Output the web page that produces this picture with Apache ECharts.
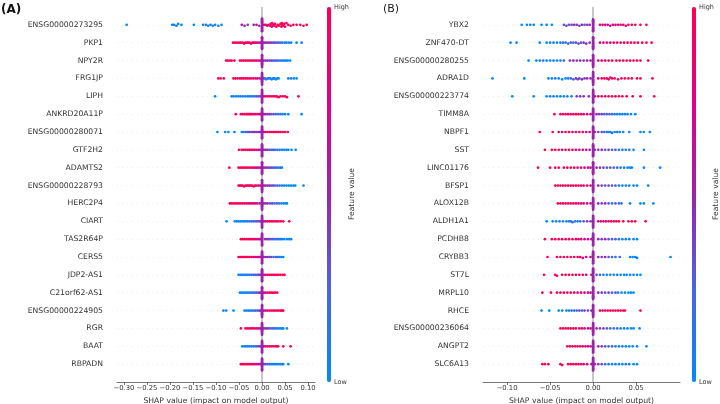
<!DOCTYPE html>
<html>
<head>
<meta charset="UTF-8">
<title>SHAP summary</title>
<script src="https://cdn.jsdelivr.net/npm/echarts@6.0.0/dist/echarts.min.js"></script>
<style>
  html, body { margin: 0; padding: 0; background: #fff; }
  #chart { width: 720px; height: 404px; }
</style>
</head>
<body>
<div id="chart"></div>
<script>
// features, top to bottom
var featuresA = ['ENSG00000273295', 'PKP1', 'NPY2R', 'FRG1JP', 'LIPH', 'ANKRD20A11P', 'ENSG00000280071',
    'GTF2H2', 'ADAMTS2', 'ENSG00000228793', 'HERC2P4', 'CIART', 'TAS2R64P', 'CERS5', 'JDP2-AS1',
    'C21orf62-AS1', 'ENSG00000224905', 'RGR', 'BAAT', 'RBPADN'];
var featuresB = ['YBX2', 'ZNF470-DT', 'ENSG00000280255', 'ADRA1D', 'ENSG00000223774', 'TIMM8A', 'NBPF1',
    'SST', 'LINC01176', 'BFSP1', 'ALOX12B', 'ALDH1A1', 'PCDHB8', 'CRYBB3', 'ST7L', 'MRPL10', 'RHCE',
    'ENSG00000236064', 'ANGPT2', 'SLC6A13'];

var ticksA = [-0.30, -0.25, -0.20, -0.15, -0.10, -0.05, 0.00, 0.05, 0.10];
var ticksB = [-0.10, -0.05, 0.00, 0.05];

// samples sitting on zero (the purple spike), per row
var zeroA = [14, 14, 14, 14, 14, 14, 14, 14, 14, 14, 14, 14, 14, 14, 14, 14, 14, 14, 14, 14];
var zeroB = [14, 14, 14, 14, 14, 14, 14, 14, 14, 14, 14, 14, 14, 14, 14, 14, 14, 14, 14, 14];

// [shap value, feature value 0..1]
var shapA = [
  [[-0.294,0],[-0.195,0],[-0.191,0],[-0.186,0.1],[-0.182,0],[-0.175,0],[-0.148,0],[-0.128,0],[-0.122,0.1],[-0.117,0],[-0.112,0.1],[-0.107,0],[-0.102,0],[-0.095,0.1],[-0.088,0],
   [-0.044,0.5],[-0.038,0.6],[-0.031,0.4],[-0.018,0.5],[-0.012,0.6],[-0.006,0.5],
   [0.004,0.8],[0.008,0.9],[0.011,1],[0.014,0.9],[0.017,1],[0.019,0.9],[0.021,1],[0.022,1],[0.024,0.9],[0.026,1],[0.028,0.9],[0.031,1],[0.034,0.9],[0.037,1],[0.040,1],[0.042,0.9],[0.043,1],[0.044,1],[0.046,0.9],[0.048,1],[0.050,1],[0.053,0.9],[0.057,1],
   [0.062,1],[0.068,1],[0.075,1],[0.083,0.9],[0.090,1],[0.097,1]],
  [[-0.063,1],[-0.059,1],[-0.055,0.9],[-0.050,1],[-0.046,1],[-0.042,0.9],[-0.039,1],[-0.036,1],[-0.033,0.9],[-0.030,1],[-0.027,0.9],[-0.024,1],[-0.021,0.9],[-0.018,0.8],[-0.015,0.9],[-0.011,0.8],[-0.007,0.7],[-0.003,0.7],
   [0.004,0.5],[0.008,0.5],[0.012,0.4],[0.016,0.5],[0.020,0.4],[0.024,0.3],[0.028,0.4],[0.032,0.2],[0.036,0.3],[0.040,0.2],[0.044,0.1],[0.049,0.1],[0.053,0],[0.058,0.1],[0.063,0],[0.075,0],[0.086,0]],
  [[-0.078,1],[-0.074,1],[-0.070,0.9],[-0.066,1],[-0.060,1],[-0.048,1],[-0.044,0.9],[-0.040,1],[-0.036,1],[-0.032,0.9],[-0.028,1],[-0.024,0.9],[-0.020,1],[-0.016,0.8],[-0.012,0.9],[-0.008,0.7],[-0.004,0.8],
   [0.004,0.5],[0.008,0.4],[0.012,0.5],[0.016,0.3],[0.020,0.4],[0.024,0.3],[0.028,0.2],[0.032,0.3],[0.036,0.1],[0.040,0.2],[0.044,0.1],[0.048,0],[0.052,0.1],[0.056,0],[0.061,0]],
  [[-0.095,1],[-0.090,1],[-0.083,0.9],[-0.062,1],[-0.058,1],[-0.053,0.9],[-0.048,1],[-0.044,1],[-0.040,0.9],[-0.036,1],[-0.032,0.8],[-0.028,1],[-0.024,0.9],[-0.019,0.8],[-0.014,0.9],[-0.010,0.7],[-0.005,0.6],
   [0.003,0.3],[0.006,0.2],[0.009,0.1],[0.012,0.2],[0.015,0],[0.018,0.1],[0.021,0],[0.024,0.1],[0.027,0],[0.030,0.1],[0.033,0],[0.036,0],[0.057,0],[0.063,0.1],[0.069,0],[0.075,0]],
  [[-0.102,0],[-0.066,0],[-0.062,0.1],[-0.057,0],[-0.052,0],[-0.047,0.1],[-0.042,0],[-0.037,0.1],[-0.032,0],[-0.028,0.1],[-0.024,0],[-0.020,0.2],[-0.016,0.1],[-0.012,0.3],[-0.008,0.4],[-0.004,0.3],
   [0.004,0.8],[0.008,0.9],[0.012,1],[0.016,0.9],[0.020,1],[0.024,1],[0.028,0.9],[0.032,1],[0.036,1],[0.040,0.9],[0.045,1],[0.050,1],[0.054,1],[0.079,1]],
  [[-0.057,1],[-0.046,1],[-0.042,0.9],[-0.038,1],[-0.034,1],[-0.031,0.9],[-0.028,1],[-0.025,1],[-0.022,0.9],[-0.018,1],[-0.014,0.8],[-0.010,0.9],[-0.006,0.7],[-0.003,0.8],
   [0.004,0.5],[0.008,0.6],[0.012,0.4],[0.016,0.5],[0.020,0.3],[0.025,0.4],[0.030,0.2],[0.035,0.1],[0.040,0.2],[0.045,0],[0.050,0.1],[0.057,0],[0.086,0]],
  [[-0.097,0],[-0.080,0],[-0.073,0],[-0.060,0],[-0.044,0],[-0.040,0.1],[-0.036,0.2],[-0.032,0.3],[-0.028,0.4],[-0.024,0.3],[-0.020,0.4],[-0.016,0.5],[-0.012,0.4],[-0.008,0.5],[-0.004,0.5],
   [0.004,0.8],[0.008,0.9],[0.012,1],[0.016,0.9],[0.020,1],[0.024,1],[0.028,0.9],[0.032,1],[0.036,1],[0.040,0.9],[0.045,1],[0.050,1],[0.056,1]],
  [[-0.050,1],[-0.044,1],[-0.040,0.9],[-0.036,1],[-0.032,1],[-0.028,0.9],[-0.024,1],[-0.020,0.8],[-0.016,0.9],[-0.012,0.8],[-0.008,0.7],[-0.004,0.6],
   [0.004,0.5],[0.008,0.4],[0.012,0.5],[0.016,0.3],[0.020,0.2],[0.024,0.3],[0.028,0.1],[0.033,0.2],[0.038,0],[0.043,0.1],[0.048,0],[0.053,0],[0.057,0],[0.064,0],[0.073,0]],
  [[-0.071,1],[-0.051,1],[-0.047,1],[-0.043,0.9],[-0.039,1],[-0.035,1],[-0.031,0.9],[-0.027,1],[-0.023,0.8],[-0.019,0.9],[-0.015,0.8],[-0.011,0.7],[-0.007,0.7],[-0.003,0.6],
   [0.004,0.5],[0.008,0.4],[0.012,0.5],[0.016,0.3],[0.020,0.4],[0.024,0.2],[0.028,0.3],[0.032,0.1],[0.036,0.2],[0.040,0],[0.043,0.1]],
  [[-0.051,1],[-0.048,1],[-0.045,0.9],[-0.042,1],[-0.039,1],[-0.036,1],[-0.033,0.9],[-0.030,1],[-0.027,1],[-0.024,0.9],[-0.021,1],[-0.018,0.9],[-0.015,1],[-0.012,0.8],[-0.008,0.9],[-0.004,0.7],
   [0.004,0.5],[0.008,0.6],[0.012,0.4],[0.016,0.5],[0.020,0.3],[0.024,0.4],[0.028,0.2],[0.033,0.3],[0.038,0.1],[0.043,0],[0.048,0.1],[0.053,0],[0.058,0],[0.063,0],[0.068,0],[0.072,0],[0.090,0]],
  [[-0.070,1],[-0.066,1],[-0.062,0.9],[-0.058,1],[-0.054,1],[-0.050,0.9],[-0.046,1],[-0.042,0.9],[-0.038,1],[-0.034,0.8],[-0.030,0.9],[-0.026,0.8],[-0.022,0.9],[-0.018,0.7],[-0.014,0.8],[-0.010,0.6],[-0.005,0.6],
   [0.004,0.5],[0.008,0.4],[0.012,0.5],[0.017,0.3],[0.022,0.4],[0.027,0.2],[0.032,0.3],[0.037,0.1],[0.042,0],[0.047,0.1],[0.051,0],[0.054,0]],
  [[-0.077,0],[-0.059,0],[-0.055,0],[-0.051,0.1],[-0.047,0],[-0.043,0],[-0.039,0.1],[-0.035,0],[-0.031,0.2],[-0.027,0.1],[-0.023,0.2],[-0.019,0.3],[-0.015,0.2],[-0.011,0.4],[-0.007,0.3],[-0.003,0.5],
   [0.004,0.7],[0.008,0.8],[0.012,0.9],[0.016,1],[0.020,0.9],[0.024,1],[0.028,1],[0.032,0.9],[0.036,1],[0.041,1],[0.046,1],[0.059,1]],
  [[-0.046,1],[-0.042,1],[-0.038,0.9],[-0.034,1],[-0.030,1],[-0.026,0.9],[-0.022,1],[-0.018,0.8],[-0.014,0.9],[-0.010,0.7],[-0.006,0.8],[-0.003,0.6],
   [0.007,0.5],[0.011,0.4],[0.015,0.4],[0.019,0.3],[0.023,0.3],[0.027,0.2],[0.031,0.1],[0.035,0.2],[0.039,0],[0.043,0.1],[0.048,0],[0.054,0],[0.059,0],[0.063,0]],
  [[-0.051,1],[-0.047,1],[-0.043,0.9],[-0.039,1],[-0.035,1],[-0.031,0.9],[-0.027,1],[-0.023,0.8],[-0.019,0.9],[-0.015,0.8],[-0.011,0.7],[-0.007,0.8],[-0.003,0.6],
   [0.004,0.5],[0.008,0.4],[0.012,0.5],[0.016,0.3],[0.020,0.4],[0.025,0.2],[0.030,0.3],[0.034,0.1],[0.038,0.2],[0.042,0],[0.046,0]],
  [[-0.051,0],[-0.047,0],[-0.043,0.1],[-0.039,0],[-0.035,0.1],[-0.031,0],[-0.027,0.2],[-0.023,0.1],[-0.019,0.2],[-0.015,0.3],[-0.011,0.2],[-0.007,0.4],[-0.003,0.5],
   [0.004,0.7],[0.008,0.8],[0.012,0.9],[0.016,1],[0.020,0.9],[0.024,1],[0.028,1],[0.032,0.9],[0.036,1],[0.040,1],[0.045,1],[0.049,1]],
  [[-0.048,0],[-0.044,0],[-0.040,0.1],[-0.036,0],[-0.032,0.1],[-0.028,0],[-0.024,0.2],[-0.020,0.1],[-0.016,0.3],[-0.012,0.2],[-0.008,0.4],[-0.004,0.5],
   [0.004,0.7],[0.008,0.8],[0.012,0.9],[0.016,1],[0.020,0.9],[0.024,1],[0.028,1],[0.033,1]],
  [[-0.084,0],[-0.078,0],[-0.062,0],[-0.038,0],[-0.034,0],[-0.030,0.1],[-0.026,0],[-0.022,0.2],[-0.018,0.1],[-0.014,0.3],[-0.010,0.2],[-0.006,0.4],[-0.003,0.5],
   [0.004,0.6],[0.008,0.7],[0.012,0.8],[0.016,0.9],[0.020,1],[0.024,0.9],[0.028,1],[0.032,1],[0.036,0.9],[0.040,1],[0.043,1],[0.046,1]],
  [[-0.046,1],[-0.036,1],[-0.032,0.9],[-0.028,1],[-0.024,1],[-0.020,0.9],[-0.016,0.8],[-0.012,0.9],[-0.008,0.7],[-0.004,0.6],
   [0.004,0.5],[0.008,0.4],[0.012,0.5],[0.016,0.3],[0.020,0.2],[0.024,0.3],[0.028,0.1],[0.032,0.2],[0.036,0],[0.040,0.1],[0.044,0],[0.046,0],[0.054,0]],
  [[-0.043,0],[-0.039,0],[-0.035,0.1],[-0.031,0],[-0.027,0.1],[-0.023,0],[-0.019,0.2],[-0.015,0.1],[-0.011,0.3],[-0.007,0.4],[-0.003,0.5],
   [0.004,0.7],[0.008,0.8],[0.012,0.9],[0.016,1],[0.020,0.9],[0.024,1],[0.028,1],[0.032,1],[0.035,1],[0.046,1],[0.062,1]],
  [[-0.046,1],[-0.043,1],[-0.040,0.9],[-0.036,1],[-0.032,1],[-0.028,0.9],[-0.024,1],[-0.020,0.8],[-0.016,0.9],[-0.012,0.8],[-0.008,0.7],[-0.004,0.6],
   [0.004,0.4],[0.008,0.3],[0.012,0.2],[0.016,0.1],[0.020,0.2],[0.024,0],[0.028,0.1],[0.032,0],[0.036,0],[0.040,0.1],[0.044,0],[0.046,0],[0.057,0]]
];

var shapB = [
  [[-0.083,0],[-0.077,0],[-0.073,0],[-0.069,0],[-0.060,0],[-0.054,0],[-0.048,0],
   [-0.034,0.3],[-0.031,0.4],[-0.028,0.3],[-0.025,0.4],[-0.022,0.5],[-0.019,0.4],[-0.016,0.4],[-0.013,0.5],[-0.010,0.3],[-0.007,0.4],[-0.004,0.5],
   [0.008,0.7],[0.011,0.8],[0.014,0.7],[0.017,0.8],[0.020,0.7],[0.023,0.8],[0.026,0.7],[0.029,0.8],[0.032,0.9],[0.035,0.8],[0.038,0.9],[0.041,1],[0.045,0.9],[0.049,1],[0.055,1],[0.062,1]],
  [[-0.096,0],[-0.089,0],[-0.062,0],[-0.054,0],[-0.050,0],[-0.046,0.1],[-0.042,0],[-0.038,0.1],[-0.035,0.2],[-0.032,0.1],[-0.029,0.2],[-0.026,0.3],[-0.023,0.2],[-0.020,0.3],[-0.017,0.4],[-0.014,0.3],[-0.011,0.4],[-0.008,0.5],[-0.004,0.4],
   [0.008,0.8],[0.012,0.7],[0.016,0.8],[0.020,0.9],[0.024,0.8],[0.028,0.9],[0.032,1],[0.036,0.9],[0.040,1],[0.044,1],[0.048,1],[0.052,1],[0.057,1],[0.062,1],[0.068,1]],
  [[-0.075,0],[-0.066,0],[-0.062,0],[-0.058,0.1],[-0.054,0],[-0.050,0],[-0.046,0.1],[-0.042,0],[-0.038,0.1],[-0.034,0.2],
   [-0.027,0.4],[-0.023,0.5],[-0.019,0.4],[-0.015,0.5],[-0.011,0.4],[-0.007,0.5],[-0.003,0.6],
   [0.006,0.8],[0.010,0.9],[0.014,1],[0.018,0.9],[0.022,1],[0.027,1],[0.031,0.9],[0.035,1],[0.039,1],[0.043,0.9],[0.047,1],[0.051,1],[0.055,1],[0.064,1]],
  [[-0.117,0],[-0.080,0],[-0.052,0],[-0.048,0],[-0.044,0.1],[-0.040,0],[-0.036,0],[-0.032,0.1],[-0.029,0],
   [-0.026,0.2],[-0.023,0.3],[-0.020,0.4],[-0.018,0.3],[-0.016,0.4],[-0.013,0.5],[-0.010,0.4],[-0.007,0.5],[-0.003,0.5],
   [0.006,0.8],[0.010,0.9],[0.013,1],[0.016,0.9],[0.018,1],[0.020,1],[0.022,0.9],[0.025,1],[0.029,1],[0.033,0.9],[0.037,1],[0.041,1],[0.045,1],[0.051,1],[0.055,1],[0.069,1]],
  [[-0.094,0],[-0.069,0],[-0.054,0],[-0.050,0],[-0.046,0.1],[-0.042,0],[-0.038,0],[-0.034,0.1],[-0.030,0],[-0.025,0.1],
   [-0.019,0.4],[-0.015,0.5],[-0.011,0.4],[-0.005,0.5],
   [0.002,0.8],[0.006,0.9],[0.010,1],[0.014,0.9],[0.018,1],[0.022,1],[0.026,0.9],[0.030,1],[0.034,1],[0.039,1],[0.046,1],[0.055,1],[0.071,1]],
  [[-0.045,1],[-0.038,1],[-0.035,0.9],[-0.032,1],[-0.029,1],[-0.026,0.9],[-0.023,1],[-0.020,0.9],[-0.017,1],[-0.014,0.8],[-0.011,0.9],[-0.007,0.8],[-0.003,0.7],
   [0.004,0.5],[0.007,0.4],[0.010,0.4],[0.013,0.3],[0.016,0.2],[0.019,0.3],[0.022,0.1],[0.025,0.2],[0.028,0],[0.031,0.1],[0.034,0],[0.037,0.1],[0.040,0],[0.044,0],[0.049,0]],
  [[-0.062,1],[-0.047,1],[-0.040,1],[-0.036,0.9],[-0.032,1],[-0.028,1],[-0.024,0.9],[-0.020,1],[-0.016,0.8],[-0.012,0.9],[-0.008,0.7],[-0.004,0.8],
   [0.002,0.5],[0.006,0.4],[0.010,0.3],[0.013,0.2],[0.016,0.1],[0.018,0.2],[0.020,0],[0.022,0.1],[0.025,0],[0.028,0.1],[0.031,0],[0.035,0],[0.042,0],[0.055,0],[0.059,0],[0.066,0]],
  [[-0.056,1],[-0.048,1],[-0.044,1],[-0.040,0.9],[-0.036,1],[-0.032,1],[-0.028,0.9],[-0.024,1],[-0.020,0.8],[-0.016,0.9],[-0.012,0.8],[-0.008,0.7],[-0.004,0.6],
   [0.002,0.5],[0.006,0.4],[0.010,0.5],[0.014,0.3],[0.018,0.4],[0.022,0.2],[0.026,0.3],[0.030,0.1],[0.034,0.2],[0.038,0],[0.042,0.1],[0.047,0],[0.059,0]],
  [[-0.064,1],[-0.050,1],[-0.044,1],[-0.040,0.9],[-0.034,1],[-0.030,1],[-0.026,0.9],[-0.022,1],[-0.018,0.8],[-0.014,0.9],[-0.010,0.7],[-0.006,0.8],[-0.003,0.6],
   [0.004,0.5],[0.008,0.4],[0.012,0.4],[0.016,0.3],[0.020,0.3],[0.024,0.2],[0.028,0.2],[0.032,0.1],[0.036,0],[0.040,0.1],[0.043,0],[0.045,0],[0.059,0],[0.078,0]],
  [[-0.044,1],[-0.041,1],[-0.038,0.9],[-0.035,1],[-0.032,1],[-0.029,0.9],[-0.026,1],[-0.023,1],[-0.020,0.9],[-0.017,1],[-0.014,0.8],[-0.011,0.9],[-0.007,0.8],[-0.003,0.7],
   [0.006,0.5],[0.010,0.4],[0.014,0.3],[0.018,0.4],[0.022,0.2],[0.026,0.3],[0.030,0.1],[0.034,0],[0.038,0.1],[0.042,0],[0.047,0],[0.051,0],[0.064,0]],
  [[-0.041,1],[-0.038,1],[-0.035,0.9],[-0.032,1],[-0.029,1],[-0.026,0.9],[-0.023,1],[-0.020,0.9],[-0.017,0.8],[-0.014,0.9],[-0.011,0.8],[-0.007,0.7],[-0.003,0.7],
   [0.006,0.5],[0.010,0.4],[0.014,0.5],[0.018,0.3],[0.022,0.2],[0.026,0.3],[0.030,0.1],[0.033,0.2],[0.043,0],[0.055,0],[0.059,0],[0.070,0]],
  [[-0.054,0],[-0.047,0],[-0.043,0],[-0.039,0.1],[-0.035,0],[-0.031,0.1],[-0.028,0],[-0.026,0.2],[-0.024,0.1],[-0.021,0.2],[-0.018,0],[-0.015,0.2],[-0.011,0.3],[-0.007,0.4],[-0.003,0.4],
   [0.006,0.7],[0.009,0.8],[0.012,0.9],[0.015,0.8],[0.018,0.9],[0.021,1],[0.024,0.9],[0.027,1],[0.030,1],[0.035,1],[0.041,1],[0.045,1],[0.049,1],[0.061,1]],
  [[-0.056,1],[-0.048,1],[-0.044,1],[-0.040,0.9],[-0.036,1],[-0.032,1],[-0.028,0.9],[-0.024,1],[-0.020,0.8],[-0.017,0.9],[-0.014,0.8],[-0.010,0.7],[-0.006,0.7],[-0.002,0.6],
   [0.006,0.5],[0.010,0.4],[0.014,0.5],[0.018,0.3],[0.022,0.2],[0.026,0.3],[0.030,0.1],[0.034,0],[0.038,0.1],[0.042,0],[0.047,0],[0.051,0]],
  [[-0.053,1],[-0.042,1],[-0.038,1],[-0.034,0.9],[-0.030,1],[-0.026,1],[-0.022,0.9],[-0.018,1],[-0.015,0.8],[-0.012,0.9],[-0.008,0.7],[-0.003,0.7],
   [0.006,0.5],[0.010,0.4],[0.014,0.5],[0.018,0.3],[0.022,0.2],[0.026,0.2],[0.031,0.1],[0.043,0],[0.046,0],[0.049,0],[0.051,0],[0.090,0]],
  [[-0.057,1],[-0.044,1],[-0.042,1],[-0.036,1],[-0.032,0.9],[-0.028,1],[-0.024,1],[-0.020,0.9],[-0.016,1],[-0.012,0.8],[-0.008,0.8],[-0.002,0.6],
   [0.004,0.3],[0.008,0.2],[0.012,0.1],[0.016,0],[0.020,0.1],[0.024,0],[0.028,0.1],[0.032,0],[0.036,0],[0.039,0],[0.043,0],[0.047,0],[0.051,0],[0.055,0]],
  [[-0.059,1],[-0.049,1],[-0.042,1],[-0.038,0.9],[-0.034,1],[-0.030,1],[-0.026,0.9],[-0.022,1],[-0.018,0.8],[-0.014,0.9],[-0.010,0.8],[-0.006,0.7],[-0.003,0.6],
   [0.006,0.5],[0.010,0.4],[0.014,0.3],[0.018,0.4],[0.022,0.2],[0.026,0.3],[0.029,0.1],[0.033,0],[0.037,0],[0.041,0],[0.044,0],[0.047,0]],
  [[-0.060,0],[-0.051,0],[-0.040,0],[-0.036,0],[-0.031,0.1],[-0.028,0],[-0.025,0.2],[-0.022,0.1],[-0.019,0.2],[-0.016,0.3],[-0.013,0.2],[-0.010,0.4],[-0.006,0.3],[-0.002,0.5],
   [0.008,0.8],[0.011,0.9],[0.014,1],[0.017,0.9],[0.020,1],[0.023,1],[0.026,0.9],[0.029,1],[0.032,1],[0.035,1],[0.037,1],[0.055,1]],
  [[-0.038,1],[-0.035,1],[-0.032,0.9],[-0.029,1],[-0.026,1],[-0.023,0.9],[-0.020,1],[-0.016,0.8],[-0.013,0.9],[-0.010,0.8],[-0.006,0.7],[-0.003,0.6],
   [0.004,0.5],[0.008,0.4],[0.012,0.4],[0.016,0.3],[0.020,0.2],[0.024,0.2],[0.028,0.1],[0.032,0],[0.036,0.1],[0.040,0],[0.044,0],[0.047,0],[0.054,0]],
  [[-0.030,1],[-0.027,1],[-0.024,0.9],[-0.021,1],[-0.018,1],[-0.015,0.9],[-0.012,0.8],[-0.009,0.9],[-0.006,0.7],[-0.003,0.7],
   [0.006,0.5],[0.010,0.4],[0.014,0.3],[0.018,0.2],[0.022,0.3],[0.026,0.1],[0.030,0],[0.034,0.1],[0.038,0],[0.042,0],[0.046,0],[0.051,0],[0.062,0]],
  [[-0.059,1],[-0.056,1],[-0.052,1],[-0.038,1],[-0.036,1],[-0.029,1],[-0.026,0.9],[-0.023,1],[-0.020,0.9],[-0.017,1],[-0.014,0.8],[-0.011,0.9],[-0.007,0.7],[-0.002,0.6],
   [0.002,0.5],[0.006,0.4],[0.010,0.3],[0.014,0.2],[0.018,0.1],[0.022,0],[0.026,0.1],[0.030,0],[0.034,0],[0.038,0.1],[0.042,0],[0.047,0],[0.051,0]]
];

// shap red_blue colormap
var cmap = ['#008afb', '#4b63e3', '#9b23ad', '#e00086', '#ff0051'];
var font = 'DejaVu Sans';

// beeswarm stacking like shap.summary_plot: bin each row, alternate up/down
var NBINS = 40;
function swarm(rows, zeros) {
    var out = [];
    rows.forEach(function (pts, r) {
        var all = pts.slice();
        for (var k = 0; k < zeros[r]; k++) all.push([0, 0.5]);
        var xs = all.map(function (p) { return p[0]; });
        var lo = Math.min.apply(null, xs), hi = Math.max.apply(null, xs);
        var q = xs.map(function (x) { return Math.round(NBINS * (x - lo) / (hi - lo + 1e-8)); });
        var order = xs.map(function (_, i) { return i; });
        order.sort(function (a, b) { return q[a] - q[b] || a - b; });
        var ys = [], layer = 0, last = null;
        order.forEach(function (i) {
            if (q[i] !== last) layer = 0;
            ys[i] = Math.ceil(layer / 2) * ((layer % 2) * 2 - 1);
            layer++;
            last = q[i];
        });
        var m = Math.max.apply(null, ys.map(function (y) { return y + 1; }));
        var s = 0.9 * (0.45 / m);
        all.forEach(function (p, i) {
            out.push([p[0], r + ys[i] * s, p[1]]);
        });
    });
    return out;
}

// faint dotted row lines, none on the two padding lines
var rowLineColors = ['rgba(0,0,0,0)'];
for (var i = 0; i < 20; i++) rowLineColors.push('#dcdcdc');

function yAxisFor(idx, names) {
    return {
        type: 'value', gridIndex: idx, min: -1, max: 20, interval: 1, inverse: true,
        axisLine: {show: false}, axisTick: {show: false},
        axisLabel: {
            margin: 14, fontSize: 7.7, color: '#333', fontFamily: font,
            formatter: function (v) { return names[v] || ''; }
        },
        splitLine: {show: true, lineStyle: {color: rowLineColors, width: 0.6, type: [1, 4]}}
    };
}

function xAxisFor(idx, min, max, ticks) {
    return {
        type: 'value', gridIndex: idx, min: min, max: max,
        name: 'SHAP value (impact on model output)', nameLocation: 'middle', nameGap: 12,
        nameTextStyle: {fontSize: 7.7, color: '#333', fontFamily: font},
        axisLine: {show: true, onZero: false, lineStyle: {color: '#555', width: 0.8}},
        axisTick: {show: true, length: 3, lineStyle: {color: '#555', width: 0.8}, customValues: ticks},
        axisLabel: {
            margin: 3, fontSize: 6.8, color: '#333', fontFamily: font, customValues: ticks,
            formatter: function (v) { return (v < 0 ? '\u2212' : '') + Math.abs(v).toFixed(2); }
        },
        splitLine: {show: false}
    };
}

function swarmSeries(idx, data) {
    return {
        type: 'scatter', xAxisIndex: idx, yAxisIndex: idx, data: data, z: 3,
        symbolSize: 2.7, itemStyle: {opacity: 1},
        markLine: {
            silent: true, symbol: 'none', z: 1, label: {show: false},
            lineStyle: {color: '#b5b5b5', width: 1.5, type: 'solid'},
            data: [{xAxis: 0}]
        }
    };
}

function colorBar(idx, seriesIdx, left) {
    return {
        type: 'continuous', seriesIndex: seriesIdx, dimension: 2, min: 0, max: 1,
        left: left, top: 7, itemWidth: 4, itemHeight: 375, padding: 0,
        calculable: false, hoverLink: false, text: null, showLabel: false,
        inRange: {color: cmap}
    };
}

function sideText(x, y, txt, size, rot) {
    return {
        type: 'text', x: x, y: y, rotation: rot || 0, silent: true,
        style: {text: txt, fontSize: size, fill: '#333', fontFamily: font,
                align: rot ? 'center' : 'left', verticalAlign: 'middle'}
    };
}

var chart = echarts.init(document.getElementById('chart'));
chart.setOption({
    animation: false,
    backgroundColor: '#fff',
    grid: [
        {left: 117, top: 7, width: 198, height: 375, outerBoundsMode: 'none'},
        {left: 483, top: 7, width: 197, height: 375, outerBoundsMode: 'none'}
    ],
    xAxis: [xAxisFor(0, -0.315, 0.115, ticksA), xAxisFor(1, -0.128, 0.101, ticksB)],
    yAxis: [yAxisFor(0, featuresA), yAxisFor(1, featuresB)],
    visualMap: [colorBar(0, 0, 327), colorBar(1, 1, 692)],
    series: [swarmSeries(0, swarm(shapA, zeroA)), swarmSeries(1, swarm(shapB, zeroB))],
    graphic: [
        {type: 'text', x: 1, y: 10, style: {text: '(A)', fontSize: 12, fontWeight: 'bold', fill: '#111', fontFamily: font, verticalAlign: 'middle'}},
        {type: 'text', x: 383, y: 9, style: {text: '(B)', fontSize: 11, fill: '#222', fontFamily: font, verticalAlign: 'middle'}},
        sideText(334, 7, 'High', 6.5), sideText(334, 382, 'Low', 6.5),
        sideText(352, 194, 'Feature value', 7.6, Math.PI / 2),
        sideText(699, 7, 'High', 6.5), sideText(699, 382, 'Low', 6.5),
        sideText(716, 194, 'Feature value', 7.6, Math.PI / 2)
    ]
});
</script>
</body>
</html>
